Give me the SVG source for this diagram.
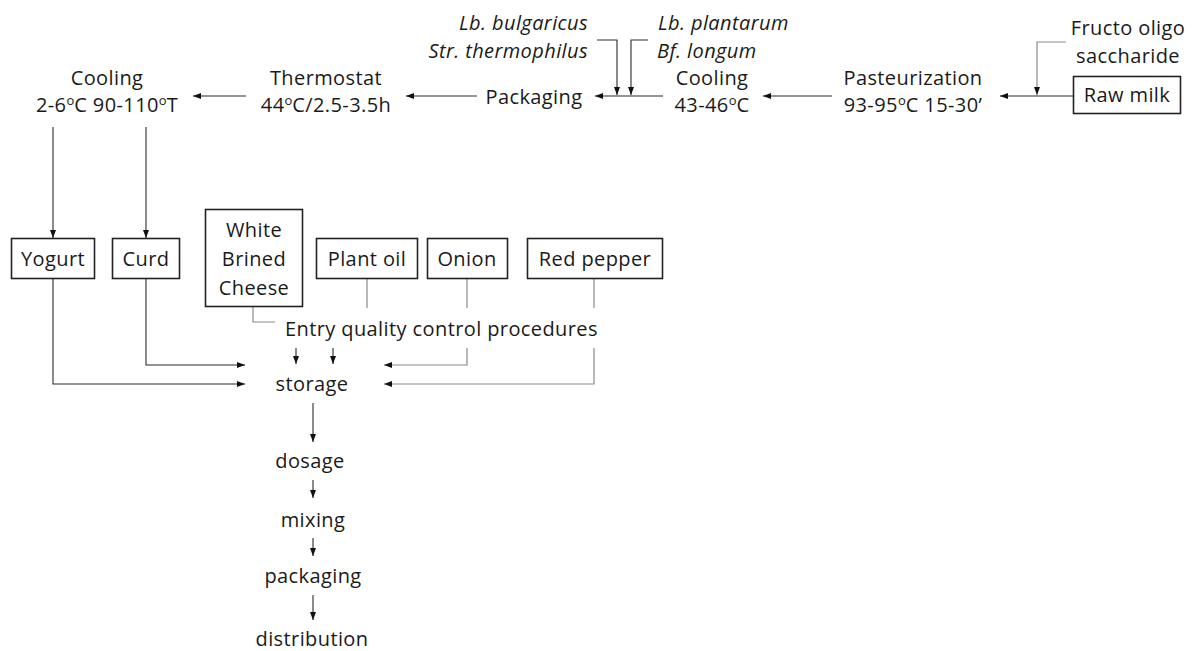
<svg xmlns="http://www.w3.org/2000/svg" width="1192" height="651" viewBox="0 0 1192 651">
<style>
text{font-family:"Open Sans","Noto Sans","Liberation Sans",sans-serif;font-size:20px;letter-spacing:0.4px;fill:#1a1a1a}
.c{text-anchor:middle}
.e{text-anchor:end}
.i{font-style:italic}
.box{fill:#fff;stroke:#222;stroke-width:1.6}
.ln{fill:none;stroke:#2a2a2a;stroke-width:1.1}
.gr{fill:none;stroke:#8a8a8a;stroke-width:1.2}
.sup{font-size:13px;letter-spacing:0}
</style>
<defs>
<marker id="ah" viewBox="0 0 8 6" refX="8" refY="3" markerWidth="8" markerHeight="6" markerUnits="userSpaceOnUse" orient="auto">
<path d="M0,0 L8,3 L0,6 z" fill="#111"/>
</marker>
</defs>
<g id="connectors">
<line class="ln" x1="1073" y1="96" x2="1000" y2="96" marker-end="url(#ah)"/>
<line class="ln" x1="832" y1="96" x2="763" y2="96" marker-end="url(#ah)"/>
<line class="ln" x1="663" y1="96" x2="595" y2="96" marker-end="url(#ah)"/>
<line class="ln" x1="477" y1="96" x2="406" y2="96" marker-end="url(#ah)"/>
<line class="ln" x1="246" y1="96" x2="193" y2="96" marker-end="url(#ah)"/>
<polyline class="gr" points="1066,42 1037,42 1037,95" marker-end="url(#ah)"/>
<polyline class="ln" points="597,40 617,40 617,95" marker-end="url(#ah)"/>
<polyline class="ln" points="648,40 631,40 631,95" marker-end="url(#ah)"/>
<line class="ln" x1="53" y1="127" x2="53" y2="238" marker-end="url(#ah)"/>
<line class="ln" x1="146" y1="127" x2="146" y2="238" marker-end="url(#ah)"/>
<polyline class="ln" points="53,278 53,384 245,384" marker-end="url(#ah)"/>
<polyline class="ln" points="146,278 146,365 245,365" marker-end="url(#ah)"/>
<polyline class="gr" points="253,307 253,322 275,322"/>
<line class="gr" x1="367" y1="278" x2="367" y2="308"/>
<line class="gr" x1="467" y1="278" x2="467" y2="308"/>
<line class="gr" x1="594" y1="278" x2="594" y2="308"/>
<line class="ln" x1="296" y1="348" x2="296" y2="364" marker-end="url(#ah)"/>
<line class="ln" x1="333" y1="348" x2="333" y2="364" marker-end="url(#ah)"/>
<polyline class="gr" points="467,348 467,365 384,365" marker-end="url(#ah)"/>
<polyline class="gr" points="594,348 594,384 384,384" marker-end="url(#ah)"/>
<line class="ln" x1="313" y1="403" x2="313" y2="442" marker-end="url(#ah)"/>
<line class="ln" x1="313" y1="480" x2="313" y2="498" marker-end="url(#ah)"/>
<line class="ln" x1="313" y1="538" x2="313" y2="556" marker-end="url(#ah)"/>
<line class="ln" x1="313" y1="595" x2="313" y2="620" marker-end="url(#ah)"/>
</g>
<g id="cooling-final">
<text class="c" x="107" y="85"><tspan x="107" y="85">Cooling</tspan><tspan x="107" y="112">2-6<tspan class="sup" dy="-7">o</tspan><tspan dy="7">C 90-110</tspan><tspan class="sup" dy="-7">o</tspan><tspan dy="7">T</tspan></tspan></text>
</g>
<g id="thermostat">
<text class="c" x="326" y="85"><tspan x="326" y="85">Thermostat</tspan><tspan x="326" y="112">44<tspan class="sup" dy="-7">o</tspan><tspan dy="7">C/2.5-3.5h</tspan></tspan></text>
</g>
<g id="packaging-top">
<text class="c" x="534" y="104">Packaging</text>
</g>
<g id="starter-1">
<text class="e i" x="588" y="30"><tspan x="588" y="30">Lb. bulgaricus</tspan><tspan x="588" y="57.5">Str. thermophilus</tspan></text>
</g>
<g id="starter-2">
<text class="i" x="658" y="30"><tspan x="658" y="30">Lb. plantarum</tspan><tspan x="657" y="57.5">Bf. longum</tspan></text>
</g>
<g id="cooling-mid">
<text class="c" x="712" y="85"><tspan x="712" y="85">Cooling</tspan><tspan x="712" y="112">43-46<tspan class="sup" dy="-7">o</tspan><tspan dy="7">C</tspan></tspan></text>
</g>
<g id="pasteurization">
<text class="c" x="913" y="85"><tspan x="913" y="85">Pasteurization</tspan><tspan x="913" y="112">93-95<tspan class="sup" dy="-7">o</tspan><tspan dy="7">C 15-30’</tspan></tspan></text>
</g>
<g id="fructo">
<text class="c" x="1128" y="35"><tspan x="1128" y="35">Fructo oligo</tspan><tspan x="1128" y="62.5">saccharide</tspan></text>
</g>
<g id="raw-milk">
<rect class="box" x="1073.5" y="76.5" width="107" height="37"/>
<text class="c" x="1127" y="102">Raw milk</text>
</g>
<g id="yogurt">
<rect class="box" x="11.5" y="238.5" width="83" height="40"/>
<text class="c" x="53" y="266">Yogurt</text>
</g>
<g id="curd">
<rect class="box" x="112.5" y="238.5" width="67" height="40"/>
<text class="c" x="146" y="266">Curd</text>
</g>
<g id="cheese">
<rect class="box" x="205.5" y="209.5" width="97" height="97"/>
<text class="c" x="254" y="237"><tspan x="254" y="237">White</tspan><tspan x="254" y="266">Brined</tspan><tspan x="254" y="295">Cheese</tspan></text>
</g>
<g id="plant-oil">
<rect class="box" x="316.5" y="238.5" width="101" height="40"/>
<text class="c" x="367" y="266">Plant oil</text>
</g>
<g id="onion">
<rect class="box" x="427.5" y="238.5" width="80" height="40"/>
<text class="c" x="467" y="266">Onion</text>
</g>
<g id="red-pepper">
<rect class="box" x="527.5" y="238.5" width="135" height="40"/>
<text class="c" x="595" y="266">Red pepper</text>
</g>
<g id="entry-qc">
<text x="285" y="336">Entry quality control procedures</text>
</g>
<g id="storage"><text class="c" x="312" y="391">storage</text></g>
<g id="dosage"><text class="c" x="310" y="468">dosage</text></g>
<g id="mixing"><text class="c" x="313" y="527">mixing</text></g>
<g id="packaging"><text class="c" x="313" y="583">packaging</text></g>
<g id="distribution"><text class="c" x="312" y="646">distribution</text></g>
</svg>
